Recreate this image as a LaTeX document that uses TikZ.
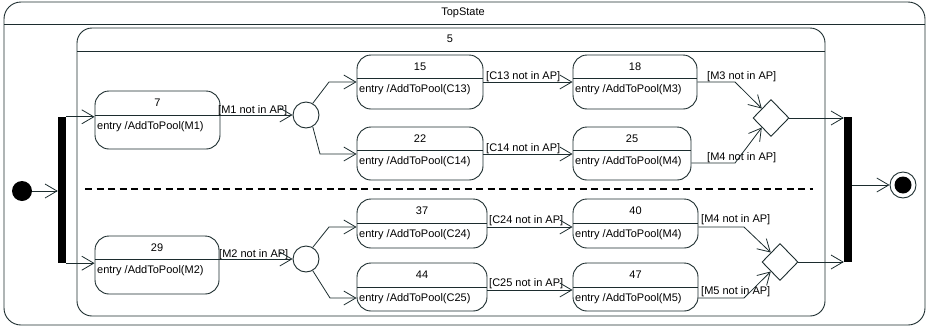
\documentclass[tikz,border=0pt]{standalone}
\usepackage{fontspec}
\setmainfont{Liberation Sans}
\usetikzlibrary{arrows.meta,shapes.geometric}
\definecolor{linec}{RGB}{28,44,46}

% a simple state: box, divider, title and entry action
\newcommand\umlstate[8]{%
  \node[stbox, minimum width={#4-#2}, minimum height={#5-#3}] (#1) at ({(#2+#4)/2},{(#3+#5)/2}) {};
  \draw[divline] (#2,#6) -- (#4,#6);
  \node[inner sep=0pt] (#1-title) at ({(#2+#4)/2},{(#3+#6)/2}) {#7};
  \node[anchor=west, inner sep=0pt] (#1-entry) at ({#2+2},{#6+12}) {#8};
}

\begin{document}
\begin{tikzpicture}[x=1pt,y=-1pt,
  font=\fontsize{11}{13}\selectfont,
  frame/.style={draw=linec, line width=0.9pt},
  stbox/.style={draw=linec, line width=0.9pt, fill=white, rounded corners=14pt, inner sep=0pt},
  divline/.style={draw=linec, line width=0.9pt},
  flow/.style={draw=linec, line width=0.8pt, -{Straight Barb[length=12pt,width=14pt,line width=0.8pt]}},
  guard/.style={anchor=base west, inner sep=0pt},
  choice/.style={circle, draw=linec, line width=0.9pt, fill=white, minimum size=26pt, inner sep=0pt},
  merge/.style={diamond, draw=linec, line width=0.9pt, fill=white, minimum width=36pt, minimum height=37pt, inner sep=0pt},
  syncbar/.style={fill=black, inner sep=0pt, minimum width=8pt},
  initstate/.style={circle, fill=black, minimum size=20pt, inner sep=0pt},
  regionsep/.style={draw=black, line width=1.2pt, dash pattern=on 7pt off 4.5pt}
]
\useasboundingbox (0,0) rectangle (926,327);

% outer composite state
\draw[frame, rounded corners=17pt] (4,2) rectangle (925,325);
\draw[frame] (4,24) -- (925,24);
\node (top-title) at (463,13) {TopState};

% inner composite state with two regions
\draw[frame, rounded corners=15pt] (77,28) rectangle (825,316);
\draw[frame] (77,51) -- (825,51);
\node (inner-title) at (450,39) {5};
\draw[regionsep] (85,189) -- (813,189);

% pseudo states
\node[initstate] (init) at (22,191) {};
\node[syncbar, minimum height=146pt] (fork) at (62,190) {};
\node[syncbar, minimum height=145pt] (join) at (848,189.5) {};
\node[circle, draw=linec, line width=0.9pt, minimum size=26pt, inner sep=0pt] (final) at (903,185) {};
\fill (final) circle (8.5pt);
\node[choice] (c1) at (306,115) {};
\node[choice] (c2) at (306,259) {};
\node[merge] (d1) at (771,118) {};
\node[merge] (d2) at (780,262) {};

% upper region
\umlstate{s7}{95}{91}{220}{149}{115}{7}{entry /AddToPool(M1)}
\umlstate{s15}{357}{55}{483}{109}{78}{15}{entry /AddToPool(C13)}
\umlstate{s22}{357}{127}{483}{180}{150}{22}{entry /AddToPool(C14)}
\umlstate{s18}{573}{55}{697}{109}{78}{18}{entry /AddToPool(M3)}
\umlstate{s25}{573}{127}{691}{180}{150}{25}{entry /AddToPool(M4)}

% lower region
\umlstate{s29}{95}{236}{219}{294}{259}{29}{entry /AddToPool(M2)}
\umlstate{s37}{357}{199}{487}{248}{223}{37}{entry /AddToPool(C24)}
\umlstate{s44}{357}{263}{487}{311}{287}{44}{entry /AddToPool(C25)}
\umlstate{s40}{573}{199}{698}{248}{223}{40}{entry /AddToPool(M4)}
\umlstate{s47}{573}{263}{698}{311}{287}{47}{entry /AddToPool(M5)}

% guards
\node[guard] (g1) at (218,113) {[M1 not in AP]};
\node[guard] (g2) at (486,79) {[C13 not in AP]};
\node[guard] (g3) at (486,151) {[C14 not in AP]};
\node[guard] (g4) at (707,79) {[M3 not in AP]};
\node[guard] (g5) at (707,160) {[M4 not in AP]};
\node[guard] (g6) at (219,257) {[M2 not in AP]};
\node[guard] (g7) at (489,223) {[C24 not in AP]};
\node[guard] (g8) at (489,286) {[C25 not in AP]};
\node[guard] (g9) at (701,222) {[M4 not in AP]};
\node[guard] (g10) at (701,294) {[M5 not in AP]};

% bends of the transitions
\coordinate (k15) at (329,82);
\coordinate (k22) at (320,154);
\coordinate (k18) at (735,82);
\coordinate (k25) at (735,163);
\coordinate (k37) at (329,227);
\coordinate (k44) at (330,298);
\coordinate (k4447) at (420,290);
\coordinate (k40) at (744,227);
\coordinate (k47) at (744,298);

% transitions
\draw[flow] (init) -- (init -| fork.west);
\draw[flow] (fork.north east) -- (fork.north east -| s7.west);
\draw[flow] (fork.south east) -- (fork.south east -| s29.west);

\draw[flow] (s7.east |- c1) -- (c1.west);
\draw[flow] (c1.60) -- (k15) -- (k15 -| s15.west);
\draw[flow] (c1.-60) -- (k22) -- (k22 -| s22.west);
\draw[flow] (k15 -| s15.east) -- (k15 -| s18.west);
\draw[flow] (k22 -| s22.east) -- (k22 -| s25.west);
\draw[flow] (k18 -| s18.east) -- (k18) -- (d1.north west);
\draw[flow] (k25 -| s25.east) -- (k25) -- (d1.south west);
\draw[flow] (d1.east) -- (d1.east -| join.west);

\draw[flow] (s29.east |- c2) -- (c2.west);
\draw[flow] (c2.60) -- (k37) -- (k37 -| s37.west);
\draw[flow] (c2.-60) -- (k44) -- (k44 -| s44.west);
\draw[flow] (k37 -| s37.east) -- (k37 -| s40.west);
\draw[flow] (k4447 -| s44.east) -- (k4447 -| s47.west);
\draw[flow] (k40 -| s40.east) -- (k40) -- (d2.north west);
\draw[flow] (k47 -| s47.east) -- (k47) -- (d2.south west);
\draw[flow] (d2.east) -- (d2.east -| join.west);

\draw[flow] (join.east |- final) -- (final.west);
\end{tikzpicture}
\end{document}
